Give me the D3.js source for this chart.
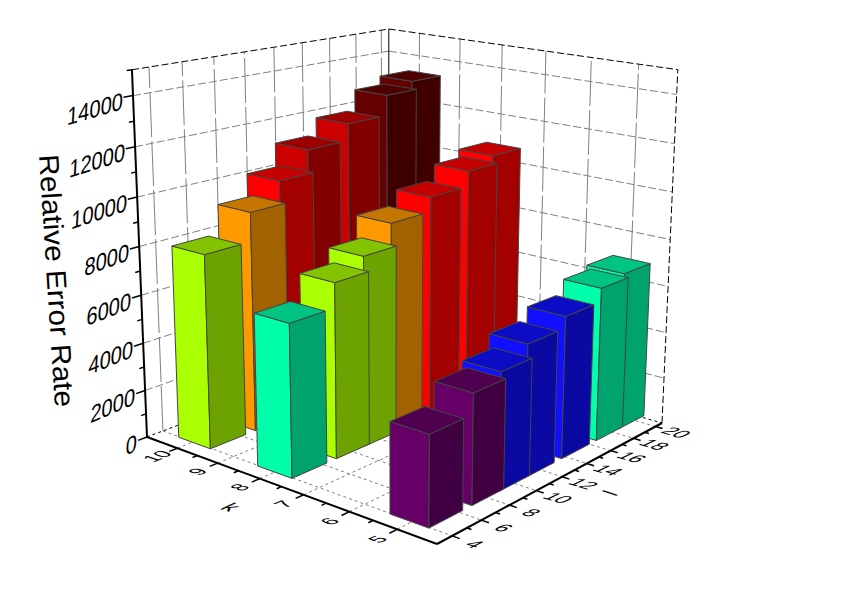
<!DOCTYPE html>
<html>
<head>
<meta charset="utf-8">
<script src="https://cdn.jsdelivr.net/npm/d3@7/dist/d3.min.js"></script>
<style>
  html, body { margin: 0; padding: 0; background: #fff; }
  text { font-family: "Liberation Sans", Arial, sans-serif; fill: #000; }
</style>
</head>
<body>
<div id="chart"></div>
<script>
// data
const kValues = [9.95, 8, 5.05];
const lValues = [5.1, 8.05, 10, 11.95, 14.85, 17.75, 19.7];
const errorK10 = [8040, 9240, 10220, 11230, 11940, 12810, 13200];
const errorK8 = [6240, 7250, 7940, 8940, 9550, 10200, 10580];
const errorK5 = [3610, 4440, 4800, 5450, 5930, 6500, 6730];
const errorRows = [errorK10, errorK8, errorK5];

const kTicks = [10, 9, 8, 7, 6, 5];
const lTicks = [4, 6, 8, 10, 12, 14, 16, 18, 20];
const zTicks = [0, 2000, 4000, 6000, 8000, 10000, 12000, 14000];

// colour levels of the bars
const levelBreaks = [4600, 6000, 7000, 8500, 9400, 10800, 12500];
const levelColors = ["#660066", "#1010ff", "#00ffaa", "#aaff00", "#ff9900", "#ff0000", "#cc0000", "#660000"];

const width = 842, height = 596;

// the scene box, as seen on the page
const cornerL = [147, 437], cornerF = [437, 544], cornerR = [662, 423], cornerB = [389, 345];
const vanish = [393, 6440], backTopY = 29;

const kScale = d3.scaleLinear().domain([10.78, 4.2]).range([0, 1]);
const lScale = d3.scaleLinear().domain([3, 20.6]).range([0, 1]);
const zScale = d3.scaleLinear().domain([0, 15000]).range([0, 1]);
const colorScale = d3.scaleThreshold().domain(levelBreaks).range(levelColors);
const labelSlope = d3.scaleLinear().domain([0, 14000]).range([-0.46, -0.29]);

const barK = 0.8, barL = 2.3;

// floor homography from the unit square to the four corners
function makeProjection() {
    let [x0, y0] = cornerL, [x1, y1] = cornerF, [x2, y2] = cornerR, [x3, y3] = cornerB;
    let dx1 = x1 - x2, dx2 = x3 - x2, sx = x0 - x1 + x2 - x3;
    let dy1 = y1 - y2, dy2 = y3 - y2, sy = y0 - y1 + y2 - y3;
    let den = dx1 * dy2 - dx2 * dy1;
    let g = (sx * dy2 - dx2 * sy) / den;
    let h = (dx1 * sy - sx * dy1) / den;
    let a = x1 - x0 + g * x1, b = x3 - x0 + h * x3;
    let d = y1 - y0 + g * y1, e = y3 - y0 + h * y3;
    // the vertical direction runs to the vanishing point, sized by the back edge
    let s = (backTopY * (1 + h) - (e + y0)) / (vanish[1] - backTopY);
    return function (u, v, w) {
        let q = g * u + h * v + 1 + s * w;
        return [
            (a * u + b * v + x0 + s * w * vanish[0]) / q,
            (d * u + e * v + y0 + s * w * vanish[1]) / q
        ];
    };
}
const project = makeProjection();

// k, l and value to page position
function pos(k, l, z) {
    return project(kScale(k), lScale(l), zScale(z));
}

const kMax = kScale.domain()[0], kMin = kScale.domain()[1];
const lMin = lScale.domain()[0], lMax = lScale.domain()[1];
const zMax = zScale.domain()[1];

const svg = d3.select("#chart").append("svg")
    .attr("width", width)
    .attr("height", height);

const line = d3.line();

function seg(parent, a, b, stroke, sw, dash) {
    parent.append("path")
        .attr("d", line([a, b]))
        .attr("fill", "none")
        .attr("stroke", stroke)
        .attr("stroke-width", sw)
        .attr("stroke-dasharray", dash || null);
}

// back walls and floor grid
const grid = svg.append("g");
zTicks.slice(1).forEach(function (z) {
    seg(grid, pos(kMax, lMin, z), pos(kMax, lMax, z), "#808080", 1, "8,3");
    seg(grid, pos(kMax, lMax, z), pos(kMin, lMax, z), "#808080", 1, "8,3");
});
lTicks.forEach(function (l) {
    seg(grid, pos(kMax, l, 0), pos(kMax, l, zMax), "#808080", 1, "45,4");
    seg(grid, pos(kMax, l, 0), pos(kMin, l, 0), "#808080", 1, "3,3");
});
kTicks.forEach(function (k) {
    seg(grid, pos(k, lMax, 0), pos(k, lMax, zMax), "#808080", 1, "45,4");
    seg(grid, pos(k, lMin, 0), pos(k, lMax, 0), "#808080", 1, "3,3");
});

// frame
const frame = svg.append("g");
seg(frame, pos(kMax, lMin, zMax), pos(kMax, lMax, zMax), "#000", 1, "7,3");
seg(frame, pos(kMax, lMax, zMax), pos(kMin, lMax, zMax), "#000", 1, "7,3");
seg(frame, pos(kMin, lMax, 0), pos(kMin, lMax, zMax), "#000", 1, "7,3");
seg(frame, pos(kMax, lMax, 0), pos(kMax, lMax, zMax), "#000", 1);
seg(frame, pos(kMax, lMin, 0), pos(kMax, lMax, 0), "#000", 1, "3,3");
seg(frame, pos(kMax, lMax, 0), pos(kMin, lMax, 0), "#000", 1, "3,3");

// bars, back to front
const bars = svg.append("g");
kValues.forEach(function (k, i) {
    d3.range(lValues.length - 1, -1, -1).forEach(function (j) {
        let l = lValues[j], z = errorRows[i][j];
        let k0 = k - barK / 2, k1 = k + barK / 2;
        let l0 = l - barL / 2, l1 = l + barL / 2;
        let c = d3.rgb(colorScale(z));
        let faces = [
            { pts: [[k1, l0, 0], [k0, l0, 0], [k0, l0, z], [k1, l0, z]], shade: 1 },
            { pts: [[k0, l0, 0], [k0, l1, 0], [k0, l1, z], [k0, l0, z]], shade: 0.64 },
            { pts: [[k1, l0, z], [k0, l0, z], [k0, l1, z], [k1, l1, z]], shade: 0.77 }
        ];
        faces.forEach(function (f) {
            bars.append("path")
                .attr("d", line(f.pts.map(function (p) { return pos(p[0], p[1], p[2]); })) + "Z")
                .attr("fill", d3.rgb(c.r * f.shade, c.g * f.shade, c.b * f.shade))
                .attr("stroke", "#444")
                .attr("stroke-width", 1)
                .attr("stroke-linejoin", "round");
        });
    });
});

// axes
const axes = svg.append("g");
seg(axes, pos(kMax, lMin, 0), pos(kMin, lMin, 0), "#000", 2);
seg(axes, pos(kMin, lMin, 0), pos(kMin, lMax, 0), "#000", 2);
seg(axes, pos(kMax, lMin, 0), pos(kMax, lMin, zMax), "#000", 2);

d3.range(5, 10.5, 0.5).forEach(function (k) {
    let major = Number.isInteger(k);
    seg(axes, pos(k, lMin, 0), pos(k, lMin - (major ? 0.5 : 0.3), 0), "#000", 1.5);
});
d3.range(4, 21, 1).forEach(function (l) {
    let major = l % 2 === 0;
    seg(axes, pos(kMin, l, 0), pos(kMin - (major ? 0.15 : 0.09), l, 0), "#000", 1.5);
});
d3.range(0, 15001, 1000).forEach(function (z) {
    let major = z % 2000 === 0 && z < 15000;
    seg(axes, pos(kMax, lMin, z), pos(kMax, lMin - (major ? 0.55 : 0.3), z), "#000", 1.5);
});

// tick labels lie in the plane of their wall or floor
zTicks.forEach(function (z) {
    let p = pos(kMax, lMin, z);
    let m = labelSlope(z);
    axes.append("text")
        .attr("transform", "matrix(0.98," + (0.98 * m) + ",-0.07,1.2," + (p[0] - 10) + "," + (p[1] + 5) + ")")
        .attr("text-anchor", "end")
        .attr("dy", "0.35em")
        .style("font-size", "20.5px")
        .text(z);
});
kTicks.forEach(function (k) {
    let p = pos(k, lMin - 1.25, 0);
    axes.append("text")
        .attr("transform", "matrix(0.92,-0.38,0.9,0.3," + p[0] + "," + p[1] + ")")
        .attr("text-anchor", "middle")
        .attr("dy", "0.35em")
        .style("font-size", "20px")
        .text(k);
});
lTicks.forEach(function (l) {
    let p = pos(kMin - 0.44, l, 0);
    axes.append("text")
        .attr("transform", "matrix(0.95,0.28,-0.9,0.42," + p[0] + "," + p[1] + ")")
        .attr("text-anchor", "middle")
        .attr("dy", "0.35em")
        .style("font-size", "20px")
        .text(l);
});

// axis titles
axes.append("text")
    .attr("transform", "matrix(0.95,0.28,-0.9,0.42,231,507)")
    .attr("text-anchor", "middle")
    .attr("dy", "0.35em")
    .style("font-size", "22px")
    .text("k");
axes.append("text")
    .attr("transform", "matrix(0.92,-0.38,0.9,0.3,610,493)")
    .attr("text-anchor", "middle")
    .attr("dy", "0.35em")
    .style("font-size", "22px")
    .text("l");
axes.append("text")
    .attr("transform", "matrix(0.07,1.1,-1.03,0.07,39,155)")
    .style("font-size", "27px")
    .text("Relative Error Rate");
</script>
</body>
</html>
